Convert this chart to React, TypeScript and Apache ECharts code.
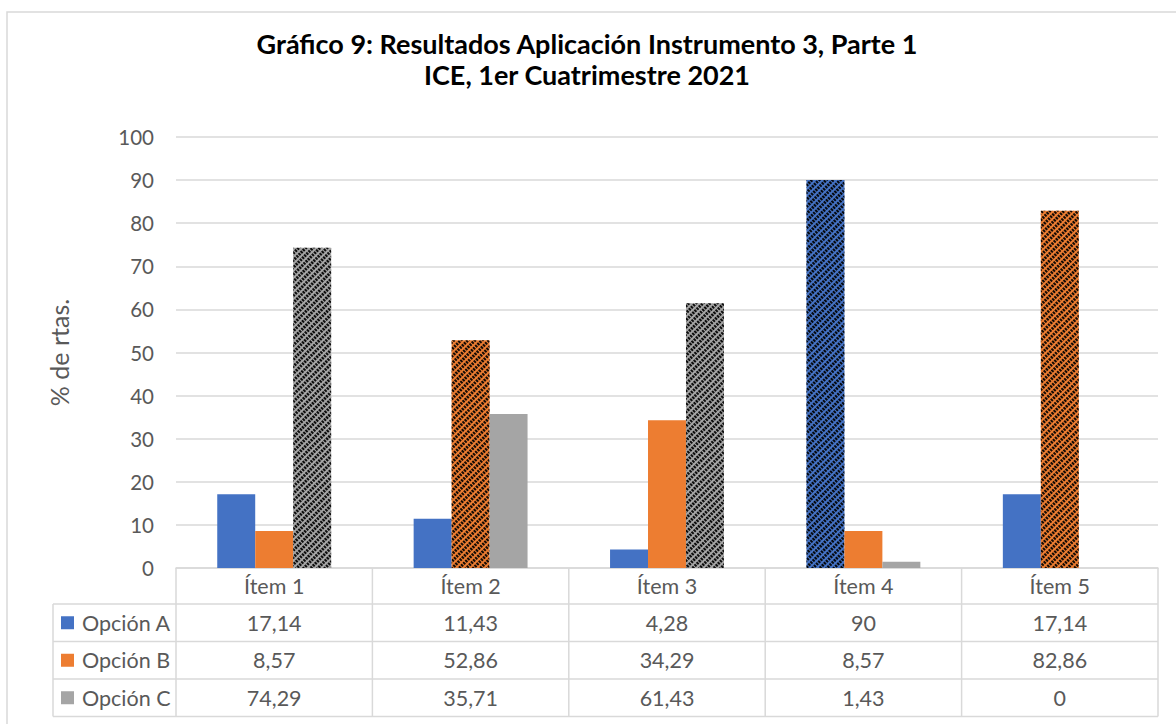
import React, { useEffect, useRef } from "react";
import * as echarts from "echarts";

const categories = ["Ítem 1", "Ítem 2", "Ítem 3", "Ítem 4", "Ítem 5"];
const seriesNames = ["Opción A", "Opción B", "Opción C"];
const opcionA = [17.14, 11.43, 4.28, 90, 17.14];
const opcionB = [8.57, 52.86, 34.29, 8.57, 82.86];
const opcionC = [74.29, 35.71, 61.43, 1.43, 0];
const colors = ["#4472C4", "#ED7D31", "#A5A5A5"];
const titleLines = [
  "Gráfico 9: Resultados Aplicación Instrumento 3, Parte 1",
  "ICE, 1er Cuatrimestre 2021",
];
const yAxisTitle = "% de rtas.";

const W = 1176;
const H = 724;
const GRID_LEFT = 176;
const GRID_RIGHT_X = 1158;
const GRID_TOP = 137;
const GRID_BOTTOM_Y = 568;
const ROW_H = 37.5;
const HEADER_H = 36;
const LEGEND_X = 53;
const FONT = "Lato, 'Open Sans', sans-serif";
const TXT = "#595959";
const LINE = "#d9d9d9";
const FS = 21.5;

const fmt = (v: number) => String(v).replace(".", ",");

export default function App() {
  const ref = useRef<HTMLDivElement>(null);
  useEffect(() => {
    if (!ref.current) return;
    const chart = echarts.init(ref.current, undefined, { renderer: "svg" });
    const all = [opcionA, opcionB, opcionC];
    const maxIdx = categories.map((_, i) => {
      let m = 0;
      all.forEach((s, k) => {
        if (s[i] > all[m][i]) m = k;
      });
      return m;
    });
    const decal = {
      symbol: "rect",
      color: "rgba(0,0,0,0.92)",
      dashArrayX: [[3, 2]],
      dashArrayY: [2, 1],
      rotation: Math.PI / 4,
      symbolSize: 1,
    };

    const cellW = (GRID_RIGHT_X - GRID_LEFT) / categories.length;
    const tableTop = GRID_BOTTOM_Y;
    const bodyTop = tableTop + HEADER_H;
    const tableBottom = bodyTop + ROW_H * seriesNames.length;
    const g: any[] = [];
    g.push({
      type: "rect",
      shape: { x: 7, y: 12, width: W + 20, height: H + 40 },
      style: { fill: "none", stroke: LINE, lineWidth: 1.5 },
      silent: true,
    });
    for (let i = 0; i <= categories.length; i++) {
      const x = GRID_LEFT + i * cellW;
      g.push({
        type: "line",
        shape: { x1: x, y1: tableTop, x2: x, y2: tableBottom },
        style: { stroke: LINE, lineWidth: 1.5 },
      });
    }
    g.push({
      type: "line",
      shape: { x1: LEGEND_X, y1: bodyTop, x2: LEGEND_X, y2: tableBottom },
      style: { stroke: LINE, lineWidth: 1.5 },
    });
    for (let r = 0; r <= seriesNames.length; r++) {
      const y = bodyTop + r * ROW_H;
      g.push({
        type: "line",
        shape: { x1: LEGEND_X, y1: y, x2: GRID_RIGHT_X, y2: y },
        style: { stroke: LINE, lineWidth: 1.5 },
      });
    }
    seriesNames.forEach((name, r) => {
      const cy = bodyTop + r * ROW_H + ROW_H / 2;
      g.push({
        type: "rect",
        shape: { x: 61, y: cy - 6.5, width: 13, height: 13 },
        style: { fill: colors[r] },
      });
      g.push({
        type: "text",
        x: 82,
        y: cy,
        style: {
          text: name,
          fill: TXT,
          font: `${FS}px ${FONT}`,
          textAlign: "left",
          textVerticalAlign: "middle",
        },
      });
      all[r].forEach((v, i) => {
        g.push({
          type: "text",
          x: GRID_LEFT + i * cellW + cellW / 2,
          y: cy,
          style: {
            text: fmt(v),
            fill: TXT,
            font: `${FS}px ${FONT}`,
            textAlign: "center",
            textVerticalAlign: "middle",
          },
        });
      });
    });

    chart.setOption({
      animation: false,
      backgroundColor: "#fff",
      title: {
        text: titleLines.join("\n"),
        left: 582,
        top: 23,
        textAlign: "center",
        textStyle: {
          fontFamily: FONT,
          fontWeight: "bold",
          fontSize: 27,
          lineHeight: 31,
          color: "#000",
        },
      },
      grid: {
        left: GRID_LEFT,
        right: W - GRID_RIGHT_X,
        top: GRID_TOP,
        bottom: H - GRID_BOTTOM_Y,
        containLabel: false,
      },
      xAxis: {
        type: "category",
        data: categories,
        axisLine: { lineStyle: { color: LINE, width: 1.5 } },
        axisTick: { show: false },
        axisLabel: {
          color: TXT,
          fontFamily: FONT,
          fontSize: FS,
          margin: 7,
        },
      },
      yAxis: {
        type: "value",
        min: 0,
        max: 100,
        interval: 10,
        name: yAxisTitle,
        nameLocation: "middle",
        nameGap: 105,
        nameTextStyle: { color: TXT, fontFamily: FONT, fontSize: 25 },
        axisLine: { show: false },
        axisTick: { show: false },
        axisLabel: { color: TXT, fontFamily: FONT, fontSize: 20.5, margin: 22 },
        splitLine: { lineStyle: { color: LINE, width: 1.5 } },
      },
      series: all.map((s, k) => ({
        type: "bar",
        name: seriesNames[k],
        barGap: "0%",
        barCategoryGap: "42%",
        itemStyle: { color: colors[k] },
        data: s.map((v, i) => ({
          value: v,
          itemStyle: maxIdx[i] === k ? { color: colors[k], decal } : { color: colors[k] },
        })),
      })),
      graphic: g,
    });
    return () => chart.dispose();
  }, []);
  return (
    <div
      ref={ref}
      style={{ position: "fixed", left: 0, top: 0, width: W, height: H }}
    />
  );
}
